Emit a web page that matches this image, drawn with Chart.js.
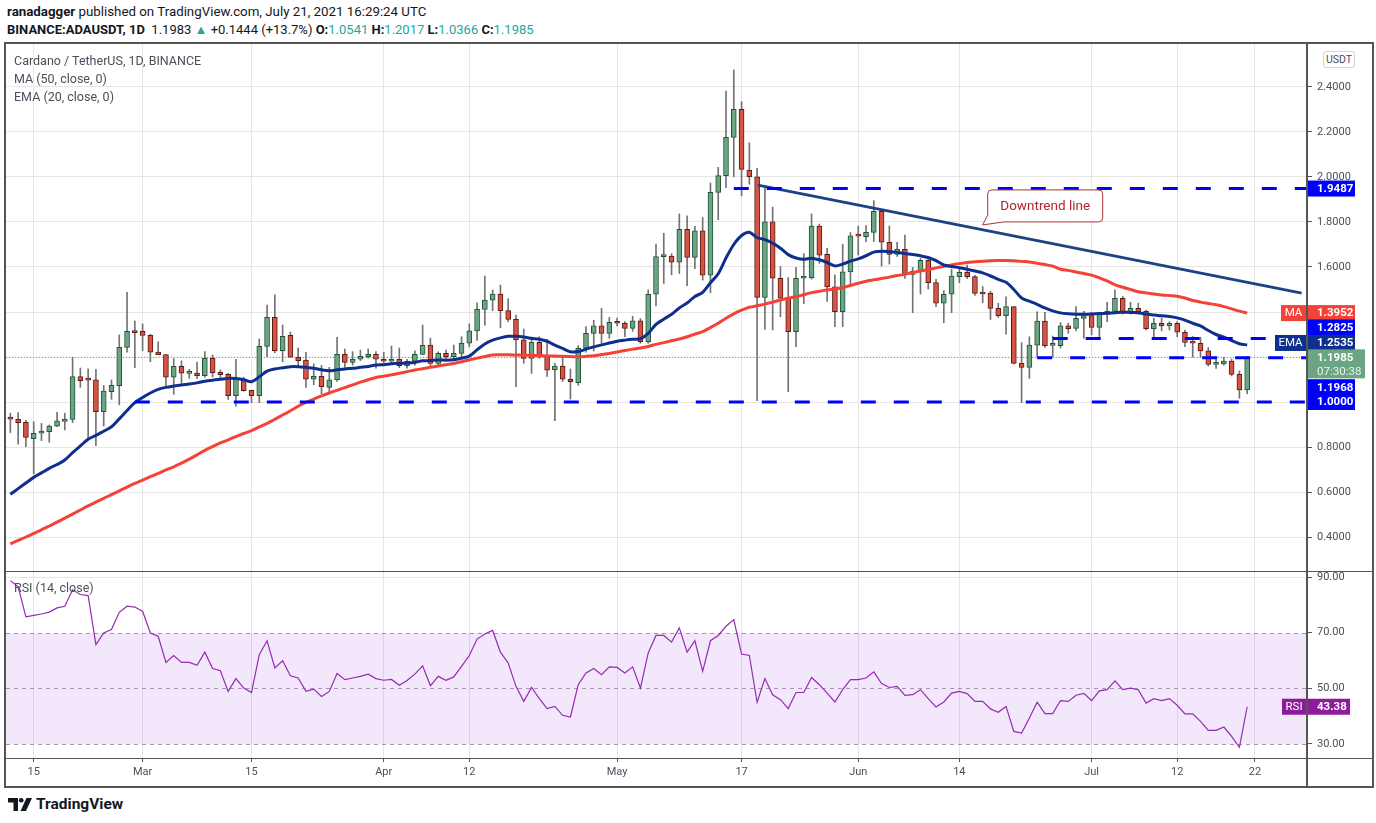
<!DOCTYPE html>
<html>
<head>
<meta charset="utf-8">
<script src="https://cdn.jsdelivr.net/npm/chart.js@4.4.1/dist/chart.umd.min.js"></script>
<style>
  html, body { margin: 0; padding: 0; background: #fff; }
  body { width: 1376px; height: 823px; position: relative; overflow: hidden;
         font-family: Roboto, 'Liberation Sans', sans-serif; color: #131722; }
  .abs { position: absolute; white-space: nowrap; }
  .up { color: #26a69a; }
  .legend { font-size: 12.5px; color: #4a4f5a; left: 14px; z-index: 5; }
  .line { position: absolute; background: #555; z-index: 6; }
</style>
</head>
<body>

<div class="abs" style="left:7px; top:4px; font-size:13.3px;"><b>ranadagger</b> published on TradingView.com, July 21, 2021 16:29:24 UTC</div>
<div class="abs" style="left:7px; top:22px; font-size:13px;"><b>BINANCE:ADAUSDT, 1D</b>&nbsp; 1.1983 <span class="up">&#9650;</span> +0.1444 (+13.7%) <b>O:</b><span class="up">1.0541</span> <b>H:</b><span class="up">1.2017</span> <b>L:</b><span class="up">1.0366</span> <b>C:</b><span class="up">1.1985</span></div>

<canvas id="priceCanvas" class="abs" width="1366" height="527" style="left:6px; top:44px; width:1366px; height:527px;"></canvas>
<canvas id="rsiCanvas" class="abs" width="1366" height="214" style="left:6px; top:572px; width:1366px; height:214px;"></canvas>

<div class="abs legend" style="top:53px;">Cardano / TetherUS, 1D, BINANCE</div>
<div class="abs legend" style="top:71px;">MA (50, close, 0)</div>
<div class="abs legend" style="top:89px;">EMA (20, close, 0)</div>
<div class="abs legend" style="top:580px;">RSI (14, close)</div>

<div class="abs" style="left:1323px; top:51px; width:30px; height:15px; border:1px solid #cfd2d8; border-radius:3px; font-size:10.5px; color:#4a4f5a; text-align:center; line-height:15px; background:#fff; z-index:5;">USDT</div>

<div class="line" style="left:4px; top:42px; width:1370px; height:2px;"></div>
<div class="line" style="left:4px; top:786px; width:1370px; height:2px;"></div>
<div class="line" style="left:4px; top:42px; width:2px; height:746px;"></div>
<div class="line" style="left:1372px; top:42px; width:2px; height:746px;"></div>
<div class="line" style="left:1306px; top:44px; width:2px; height:742px;"></div>
<div class="line" style="left:6px; top:571px; width:1366px; height:1px;"></div>
<div class="line" style="left:6px; top:758px; width:1366px; height:1px;"></div>

<div class="abs" style="left:8px; top:795px; height:18px; display:flex; align-items:center;">
  <svg width="24" height="13" viewBox="0 0 24 13">
    <path d="M0 0 H10 V13 H5.5 V4.5 H0 Z" fill="#131722"/>
    <circle cx="13.2" cy="2.3" r="2.3" fill="#131722"/>
    <path d="M18.5 0 H24 L18 13 H12.5 Z" fill="#131722"/>
  </svg>
  <span style="font-weight:bold; font-size:15.5px; margin-left:4px; color:#131722;">TradingView</span>
</div>

<script>
// ADA/USDT daily candles, Feb 12 .. Jul 21 2021 (x = day of year, Jan 1 = 0)
const firstDay = 42;

const opens = [
  0.928, 0.923, 0.910, 0.837, 0.861, 0.868, 0.893, 0.914, 0.923, 1.113,
  1.099, 1.098, 0.957, 1.046, 1.073, 1.243, 1.314, 1.314, 1.296, 1.222,
  1.211, 1.110, 1.159, 1.127, 1.128, 1.117, 1.194, 1.132, 1.123, 1.028,
  1.101, 1.052, 1.028, 1.247, 1.376, 1.228, 1.296, 1.199, 1.186, 1.101,
  1.114, 1.065, 1.098, 1.212, 1.176, 1.190, 1.202, 1.212, 1.190, 1.181,
  1.190, 1.161, 1.181, 1.212, 1.253, 1.172, 1.216, 1.201, 1.216, 1.261,
  1.316, 1.412, 1.453, 1.480, 1.406, 1.367, 1.276, 1.194, 1.265, 1.203,
  1.144, 1.160, 1.101, 1.086, 1.239, 1.305, 1.338, 1.305, 1.354, 1.350,
  1.327, 1.361, 1.268, 1.479, 1.646, 1.649, 1.621, 1.767, 1.643, 1.761,
  1.564, 1.932, 2.006, 2.176, 2.301, 2.031, 2.001, 1.465, 1.801, 1.550,
  1.465, 1.313, 1.550, 1.553, 1.782, 1.656, 1.512, 1.401, 1.578, 1.740,
  1.735, 1.754, 1.847, 1.710, 1.656, 1.679, 1.567, 1.582, 1.630, 1.531,
  1.439, 1.479, 1.557, 1.576, 1.557, 1.482, 1.483, 1.416, 1.384, 1.424,
  1.172, 1.154, 1.253, 1.360, 1.252, 1.250, 1.338, 1.327, 1.372, 1.384,
  1.332, 1.394, 1.403, 1.461, 1.401, 1.416, 1.403, 1.326, 1.350, 1.338,
  1.350, 1.310, 1.265, 1.261, 1.227, 1.167, 1.169, 1.182, 1.123, 1.0541
];
const highs = [
  0.950, 0.953, 0.919, 0.912, 0.905, 0.898, 0.954, 0.950, 1.199, 1.151,
  1.147, 1.145, 1.074, 1.098, 1.298, 1.487, 1.360, 1.347, 1.301, 1.267,
  1.212, 1.193, 1.183, 1.145, 1.177, 1.224, 1.209, 1.142, 1.127, 1.190,
  1.110, 1.052, 1.280, 1.431, 1.476, 1.342, 1.311, 1.240, 1.221, 1.170,
  1.163, 1.154, 1.287, 1.235, 1.224, 1.231, 1.236, 1.224, 1.221, 1.249,
  1.240, 1.190, 1.227, 1.342, 1.284, 1.223, 1.231, 1.253, 1.290, 1.347,
  1.441, 1.560, 1.498, 1.520, 1.459, 1.386, 1.324, 1.285, 1.290, 1.278,
  1.172, 1.201, 1.147, 1.250, 1.335, 1.363, 1.416, 1.376, 1.373, 1.357,
  1.381, 1.371, 1.498, 1.702, 1.750, 1.659, 1.836, 1.827, 1.781, 1.820,
  1.973, 2.043, 2.382, 2.476, 2.335, 2.152, 2.038, 1.955, 1.866, 1.602,
  1.553, 1.599, 1.659, 1.836, 1.791, 1.683, 1.565, 1.701, 1.753, 1.782,
  1.784, 1.895, 1.856, 1.782, 1.710, 1.742, 1.598, 1.638, 1.645, 1.545,
  1.495, 1.590, 1.598, 1.608, 1.563, 1.513, 1.492, 1.439, 1.467, 1.424,
  1.264, 1.290, 1.401, 1.398, 1.293, 1.353, 1.350, 1.424, 1.403, 1.399,
  1.397, 1.443, 1.498, 1.469, 1.443, 1.439, 1.409, 1.372, 1.372, 1.357,
  1.357, 1.320, 1.291, 1.288, 1.242, 1.194, 1.199, 1.191, 1.138, 1.2017
];
const lows = [
  0.864, 0.813, 0.801, 0.680, 0.828, 0.821, 0.890, 0.876, 0.908, 1.065,
  0.837, 0.806, 0.893, 1.012, 0.987, 1.222, 1.153, 1.228, 1.179, 1.210,
  1.064, 1.034, 1.083, 1.105, 1.104, 1.110, 1.112, 1.105, 1.012, 0.982,
  1.048, 0.997, 0.997, 1.201, 1.219, 1.179, 1.199, 1.157, 1.065, 1.076,
  1.036, 1.039, 1.092, 1.154, 1.164, 1.184, 1.195, 1.150, 1.175, 1.175,
  1.153, 1.150, 1.164, 1.210, 1.158, 1.166, 1.184, 1.190, 1.201, 1.246,
  1.274, 1.342, 1.406, 1.330, 1.357, 1.068, 1.172, 1.127, 1.194, 1.114,
  0.917, 1.091, 1.013, 1.074, 1.221, 1.227, 1.261, 1.283, 1.338, 1.290,
  1.314, 1.261, 1.261, 1.427, 1.527, 1.565, 1.571, 1.517, 1.593, 1.542,
  1.485, 1.810, 1.953, 2.001, 1.916, 1.968, 1.006, 1.323, 1.320, 1.379,
  1.046, 1.246, 1.437, 1.546, 1.616, 1.447, 1.335, 1.335, 1.520, 1.653,
  1.713, 1.713, 1.604, 1.613, 1.647, 1.549, 1.397, 1.480, 1.502, 1.424,
  1.352, 1.397, 1.530, 1.548, 1.474, 1.441, 1.367, 1.376, 1.302, 1.169,
  0.997, 1.105, 1.200, 1.243, 1.200, 1.240, 1.305, 1.316, 1.283, 1.298,
  1.283, 1.357, 1.391, 1.391, 1.391, 1.391, 1.320, 1.283, 1.316, 1.320,
  1.290, 1.246, 1.199, 1.199, 1.160, 1.149, 1.164, 1.116, 1.017, 1.0366
];
const closes = [
  0.924, 0.908, 0.843, 0.861, 0.871, 0.893, 0.916, 0.924, 1.113, 1.095,
  1.097, 0.957, 1.048, 1.074, 1.243, 1.314, 1.308, 1.296, 1.221, 1.210,
  1.110, 1.159, 1.128, 1.130, 1.117, 1.194, 1.130, 1.121, 1.028, 1.101,
  1.050, 1.028, 1.247, 1.376, 1.228, 1.292, 1.199, 1.184, 1.101, 1.114,
  1.068, 1.098, 1.212, 1.176, 1.190, 1.203, 1.212, 1.190, 1.181, 1.190,
  1.161, 1.181, 1.212, 1.252, 1.172, 1.216, 1.201, 1.216, 1.261, 1.316,
  1.412, 1.453, 1.480, 1.406, 1.367, 1.276, 1.194, 1.265, 1.203, 1.141,
  1.160, 1.101, 1.090, 1.239, 1.305, 1.338, 1.305, 1.354, 1.350, 1.327,
  1.361, 1.268, 1.479, 1.646, 1.649, 1.621, 1.767, 1.643, 1.761, 1.564,
  1.932, 2.006, 2.176, 2.301, 2.034, 2.001, 1.465, 1.801, 1.550, 1.461,
  1.313, 1.550, 1.553, 1.782, 1.653, 1.512, 1.401, 1.578, 1.738, 1.737,
  1.754, 1.847, 1.710, 1.656, 1.679, 1.567, 1.582, 1.630, 1.530, 1.439,
  1.479, 1.560, 1.576, 1.557, 1.483, 1.480, 1.416, 1.384, 1.424, 1.172,
  1.154, 1.253, 1.360, 1.250, 1.253, 1.338, 1.326, 1.372, 1.384, 1.332,
  1.394, 1.403, 1.461, 1.401, 1.416, 1.401, 1.326, 1.350, 1.338, 1.350,
  1.310, 1.265, 1.262, 1.227, 1.167, 1.169, 1.182, 1.123, 1.054, 1.1985
];

// EMA (20, close)
const emaValues = [
  0.590, 0.615, 0.640, 0.665, 0.685, 0.705, 0.722, 0.742, 0.775, 0.805,
  0.834, 0.852, 0.870, 0.890, 0.925, 0.962, 0.997, 1.020, 1.040, 1.056,
  1.065, 1.071, 1.076, 1.080, 1.085, 1.092, 1.097, 1.101, 1.105, 1.104,
  1.099, 1.090, 1.112, 1.137, 1.147, 1.152, 1.157, 1.157, 1.154, 1.150,
  1.143, 1.139, 1.143, 1.147, 1.150, 1.154, 1.158, 1.164, 1.166, 1.170,
  1.172, 1.173, 1.176, 1.183, 1.184, 1.187, 1.186, 1.188, 1.195, 1.204,
  1.232, 1.258, 1.275, 1.285, 1.292, 1.292, 1.289, 1.283, 1.279, 1.270,
  1.253, 1.238, 1.223, 1.224, 1.235, 1.245, 1.254, 1.262, 1.270, 1.275,
  1.279, 1.281, 1.305, 1.345, 1.368, 1.390, 1.418, 1.440, 1.469, 1.487,
  1.530, 1.570, 1.640, 1.700, 1.740, 1.754, 1.730, 1.722, 1.706, 1.683,
  1.655, 1.640, 1.634, 1.639, 1.632, 1.620, 1.605, 1.613, 1.626, 1.636,
  1.650, 1.666, 1.670, 1.668, 1.665, 1.660, 1.656, 1.650, 1.642, 1.628,
  1.609, 1.602, 1.597, 1.590, 1.582, 1.574, 1.560, 1.545, 1.532, 1.500,
  1.462, 1.448, 1.434, 1.418, 1.405, 1.396, 1.392, 1.390, 1.390, 1.391,
  1.393, 1.394, 1.397, 1.399, 1.398, 1.397, 1.391, 1.387, 1.383, 1.380,
  1.374, 1.364, 1.350, 1.338, 1.318, 1.300, 1.288, 1.273, 1.259, 1.2535
];

// MA (50, close)
const maValues = [
  0.370, 0.385, 0.400, 0.416, 0.432, 0.449, 0.466, 0.484, 0.502, 0.520,
  0.538, 0.555, 0.572, 0.588, 0.605, 0.622, 0.638, 0.653, 0.668, 0.683,
  0.698, 0.712, 0.728, 0.746, 0.765, 0.785, 0.802, 0.818, 0.832, 0.846,
  0.860, 0.873, 0.889, 0.905, 0.923, 0.942, 0.961, 0.981, 0.998, 1.013,
  1.027, 1.040, 1.052, 1.064, 1.076, 1.088, 1.099, 1.109, 1.115, 1.121,
  1.128, 1.135, 1.142, 1.148, 1.154, 1.160, 1.166, 1.171, 1.179, 1.187,
  1.195, 1.202, 1.209, 1.210, 1.210, 1.209, 1.208, 1.207, 1.206, 1.205,
  1.204, 1.203, 1.202, 1.201, 1.203, 1.206, 1.211, 1.216, 1.222, 1.229,
  1.235, 1.240, 1.247, 1.256, 1.264, 1.272, 1.280, 1.290, 1.302, 1.313,
  1.331, 1.350, 1.372, 1.392, 1.408, 1.421, 1.428, 1.435, 1.444, 1.453,
  1.461, 1.468, 1.477, 1.486, 1.492, 1.498, 1.503, 1.508, 1.518, 1.528,
  1.537, 1.543, 1.549, 1.555, 1.562, 1.568, 1.575, 1.582, 1.589, 1.596,
  1.603, 1.609, 1.615, 1.620, 1.623, 1.626, 1.628, 1.629, 1.629, 1.628,
  1.625, 1.622, 1.617, 1.611, 1.604, 1.590, 1.585, 1.578, 1.571, 1.564,
  1.552, 1.538, 1.521, 1.510, 1.500, 1.490, 1.485, 1.480, 1.476, 1.473,
  1.470, 1.462, 1.451, 1.444, 1.438, 1.432, 1.424, 1.414, 1.404, 1.3952
];

// RSI (14, close)
const rsiValues = [
  88.7, 86.5, 75.7, 76.2, 76.7, 77.4, 78.9, 79.5, 85.4, 83.7,
  83.3, 65.7, 69.9, 71.1, 77.3, 79.5, 79.2, 77.7, 69.9, 68.7,
  59.3, 61.8, 59.3, 59.3, 58.3, 63.0, 57.1, 56.3, 48.9, 53.5,
  50.1, 48.5, 62.1, 67.1, 57.3, 59.9, 54.5, 53.7, 48.9, 49.7,
  47.1, 48.9, 55.3, 53.1, 53.7, 54.3, 55.1, 53.5, 52.9, 53.2,
  51.1, 52.8, 55.1, 58.1, 50.9, 54.3, 52.9, 54.1, 57.9, 61.8,
  67.7, 69.5, 70.8, 63.0, 59.1, 50.7, 45.3, 50.3, 46.3, 42.7,
  43.5, 40.3, 39.7, 51.3, 55.5, 57.1, 54.9, 57.7, 57.5, 55.5,
  57.7, 50.1, 62.7, 69.0, 69.0, 66.6, 71.7, 63.0, 67.1, 56.1,
  67.1, 69.0, 72.3, 74.7, 62.3, 61.8, 45.0, 53.5, 47.7, 45.9,
  42.7, 48.5, 48.5, 53.9, 51.3, 48.3, 45.1, 49.5, 53.1, 53.1,
  53.7, 55.9, 51.7, 50.3, 50.7, 47.5, 47.7, 49.5, 46.3, 43.3,
  45.1, 48.3, 48.9, 48.1, 45.3, 45.3, 42.6, 41.4, 43.5, 34.5,
  33.9, 39.3, 45.0, 40.9, 40.9, 45.6, 45.3, 47.5, 48.2, 45.6,
  49.1, 49.5, 52.7, 49.5, 50.1, 49.5, 44.7, 46.3, 45.6, 46.3,
  43.9, 40.8, 40.8, 38.1, 34.9, 34.9, 36.1, 32.7, 28.8, 43.38
];

// drawn horizontal levels and trend line
const levelValues = [1.9487, 1.2825, 1.1968, 1.0];
const levelFromDay = [135, 176, 174, 58];
const trendDays = [138.1, 208.0];
const trendPrices = [1.964, 1.484];
const calloutText = 'Downtrend line';
const calloutTip = { x: 167.0, y: 1.787 };

// axes
const priceTicks = [0.4, 0.6, 0.8, 1.0, 1.2, 1.4, 1.6, 1.8, 2.0, 2.2, 2.4];
const rsiTicks = [30, 50, 70, 90];
const tickDays = [45, 59, 73, 90, 101, 120, 136, 151, 164, 181, 192, 202];
const tickLabels = ['15', 'Mar', '15', 'Apr', '12', 'May', '17', 'Jun', '14', 'Jul', '12', '22'];
const countdown = '07:30:38';

const xMin = 41.44, xMax = 208.69;
const priceMin = 0.2489, priceMax = 2.5911;
const rsiMin = 24.96, rsiMax = 91.8;

const gridColor = '#e6e6e6';
const axisText = '#4a4f5a';
const upFill = '#6ba583', upLine = '#225437';
const downFill = '#d75442', downLine = '#5b1a13';
const lineBlue = '#0000ff';
const emaColor = '#0e2f8e';
const maColor = '#f44336';
const rsiColor = '#952bb0';
const fontFamily = "Roboto, 'Liberation Sans', sans-serif";

const days = closes.map((c, i) => firstDay + i);
const last = closes.length - 1;

function badge(ctx, x, yc, w, h, bg, text, sub) {
  ctx.fillStyle = bg;
  ctx.fillRect(x, yc - 8, w, h);
  ctx.fillStyle = '#fff';
  ctx.font = 'bold 11.5px ' + fontFamily;
  ctx.textBaseline = 'middle';
  ctx.textAlign = 'left';
  ctx.fillText(text, x + 10, yc + 0.5);
  if (sub) {
    ctx.font = '11.5px ' + fontFamily;
    ctx.fillStyle = 'rgba(255,255,255,0.85)';
    ctx.fillText(sub, x + 10, yc + 14.5);
  }
}
function tag(ctx, right, yc, w, bg, text) {
  ctx.fillStyle = bg;
  ctx.fillRect(right - w - 1, yc - 8, w, 16);
  ctx.fillStyle = '#fff';
  ctx.font = '11.5px ' + fontFamily;
  ctx.textBaseline = 'middle';
  ctx.textAlign = 'center';
  ctx.fillText(text, right - 1 - w / 2, yc + 0.5);
}

const priceExtras = {
  id: 'priceExtras',
  beforeDatasetsDraw(chart) {
    const { ctx, chartArea: a, scales: { y } } = chart;
    const py = y.getPixelForValue(closes[last]);
    ctx.save();
    ctx.strokeStyle = '#6f9a80';
    ctx.lineWidth = 1;
    ctx.setLineDash([1, 2]);
    ctx.beginPath();
    ctx.moveTo(a.left, py);
    ctx.lineTo(a.right, py);
    ctx.stroke();
    ctx.restore();
  },
  afterDatasetsDraw(chart) {
    const { ctx, scales: { x, y } } = chart;
    const tx = x.getPixelForValue(calloutTip.x), ty = y.getPixelForValue(calloutTip.y);
    const x0 = tx + 5, x1 = x0 + 115, y1 = ty - 3, y0 = y1 - 32, r = 4;
    ctx.save();
    ctx.beginPath();
    ctx.moveTo(x0 + r, y0);
    ctx.lineTo(x1 - r, y0);
    ctx.arcTo(x1, y0, x1, y0 + r, r);
    ctx.lineTo(x1, y1 - r);
    ctx.arcTo(x1, y1, x1 - r, y1, r);
    ctx.lineTo(x0 + 16, y1);
    ctx.lineTo(tx, ty);
    ctx.lineTo(x0, y1 - 7);
    ctx.lineTo(x0, y0 + r);
    ctx.arcTo(x0, y0, x0 + r, y0, r);
    ctx.closePath();
    ctx.fillStyle = '#fff';
    ctx.fill();
    ctx.strokeStyle = '#a8323a';
    ctx.lineWidth = 1;
    ctx.stroke();
    ctx.fillStyle = '#b2262b';
    ctx.font = '13.5px ' + fontFamily;
    ctx.textAlign = 'center';
    ctx.textBaseline = 'middle';
    ctx.fillText(calloutText, (x0 + x1) / 2, (y0 + y1) / 2 + 0.5);
    ctx.restore();
  },
  afterDraw(chart) {
    const { ctx, chartArea: a, scales: { y } } = chart;
    const px = v => y.getPixelForValue(v);
    const X = a.right;
    ctx.save();
    badge(ctx, X, px(levelValues[0]), 48, 16, lineBlue, levelValues[0].toFixed(4));
    tag(ctx, X, px(maValues[last]), 25, maColor, 'MA');
    badge(ctx, X, px(maValues[last]), 48, 16, maColor, maValues[last].toFixed(4));
    badge(ctx, X, px(levelValues[1]) - 11, 48, 16, lineBlue, levelValues[1].toFixed(4));
    tag(ctx, X, px(emaValues[last]) - 2, 31, emaColor, 'EMA');
    badge(ctx, X, px(emaValues[last]) - 2, 48, 16, emaColor, emaValues[last].toFixed(4));
    badge(ctx, X, px(levelValues[2]) + 29.5, 48, 16, lineBlue, levelValues[2].toFixed(4));
    badge(ctx, X, px(levelValues[3]), 48, 16, lineBlue, levelValues[3].toFixed(4));
    badge(ctx, X, px(closes[last]), 58, 29, upFill, closes[last].toFixed(4), countdown);
    ctx.restore();
  }
};

const levelSets = levelValues.map((v, i) => ({
  type: 'line',
  data: [{ x: levelFromDay[i], y: v }, { x: xMax, y: v }],
  borderColor: lineBlue, borderWidth: 3, borderDash: [15, 18],
  pointRadius: 0, order: 0
}));

new Chart(document.getElementById('priceCanvas'), {
  type: 'bar',
  data: {
    datasets: [
      ...levelSets,
      {
        type: 'line',
        data: trendDays.map((d, i) => ({ x: d, y: trendPrices[i] })),
        borderColor: '#1d4385', borderWidth: 3, pointRadius: 0, order: 0
      },
      {
        type: 'line',
        data: days.map((d, i) => ({ x: d, y: emaValues[i] })),
        borderColor: emaColor, borderWidth: 3, pointRadius: 0, tension: 0.3, order: 1
      },
      {
        type: 'line',
        data: days.map((d, i) => ({ x: d, y: maValues[i] })),
        borderColor: maColor, borderWidth: 3, pointRadius: 0, tension: 0.3, order: 1
      },
      {
        data: days.map((d, i) => ({ x: d, y: [opens[i], closes[i]] })),
        backgroundColor: ctx => closes[ctx.dataIndex] >= opens[ctx.dataIndex] ? upFill : downFill,
        borderColor: ctx => closes[ctx.dataIndex] >= opens[ctx.dataIndex] ? upLine : downLine,
        borderWidth: 1, borderSkipped: false, barThickness: 5, minBarLength: 2,
        grouped: false, order: 2
      },
      {
        data: days.map((d, i) => ({ x: d, y: [lows[i], highs[i]] })),
        backgroundColor: '#737375', barThickness: 1, grouped: false, order: 3
      }
    ]
  },
  options: {
    responsive: false,
    animation: false,
    layout: { padding: 0 },
    plugins: { legend: { display: false }, tooltip: { enabled: false } },
    scales: {
      x: {
        type: 'linear', min: xMin, max: xMax, offset: false,
        grid: { color: gridColor, drawTicks: false, offset: false },
        border: { display: false },
        ticks: { display: false },
        afterBuildTicks: s => { s.ticks = tickDays.map(v => ({ value: v })); },
        afterFit: s => { s.height = 0; s.paddingLeft = 0; s.paddingRight = 0; }
      },
      y: {
        position: 'right', min: priceMin, max: priceMax,
        grid: { color: gridColor, tickLength: 5, tickColor: '#555' },
        border: { display: false },
        ticks: { padding: 5, color: axisText, font: { size: 11, family: fontFamily },
                 callback: v => Number(v).toFixed(4) },
        afterBuildTicks: s => { s.ticks = priceTicks.map(v => ({ value: v })); },
        afterFit: s => { s.width = 65; s.paddingTop = 0; s.paddingBottom = 0; }
      }
    }
  },
  plugins: [priceExtras]
});

const rsiExtras = {
  id: 'rsiExtras',
  beforeDatasetsDraw(chart) {
    const { ctx, chartArea: a, scales: { y } } = chart;
    const y70 = y.getPixelForValue(70), y30 = y.getPixelForValue(30);
    ctx.save();
    ctx.fillStyle = 'rgba(140, 20, 230, 0.1)';
    ctx.fillRect(a.left, y70, a.right - a.left, y30 - y70);
    ctx.strokeStyle = '#a795b1';
    ctx.lineWidth = 1;
    ctx.setLineDash([4, 4]);
    [70, 50, 30].forEach(v => {
      const py = Math.round(y.getPixelForValue(v)) + 0.5;
      ctx.beginPath();
      ctx.moveTo(a.left, py);
      ctx.lineTo(a.right, py);
      ctx.stroke();
    });
    ctx.restore();
  },
  afterDraw(chart) {
    const { ctx, chartArea: a, scales: { y } } = chart;
    const v = rsiValues[last];
    const py = y.getPixelForValue(v);
    ctx.save();
    tag(ctx, a.right, py, 24, '#8d1b9c', 'RSI');
    badge(ctx, a.right, py, 43, 16, '#8d1b9c', v.toFixed(2));
    ctx.restore();
  }
};

new Chart(document.getElementById('rsiCanvas'), {
  type: 'line',
  data: {
    datasets: [{
      data: days.map((d, i) => ({ x: d, y: rsiValues[i] })),
      borderColor: rsiColor, borderWidth: 1.2, pointRadius: 0, tension: 0
    }]
  },
  options: {
    responsive: false,
    animation: false,
    layout: { padding: 0 },
    plugins: { legend: { display: false }, tooltip: { enabled: false } },
    scales: {
      x: {
        type: 'linear', min: xMin, max: xMax, offset: false,
        grid: { color: gridColor, tickLength: 4, tickColor: '#555', offset: false },
        border: { display: false },
        ticks: { padding: 4, maxRotation: 0, autoSkip: false, color: axisText,
                 font: { size: 11, family: fontFamily },
                 callback: (v, i) => tickLabels[i] },
        afterBuildTicks: s => { s.ticks = tickDays.map(v => ({ value: v })); },
        afterFit: s => { s.height = 28; s.paddingLeft = 0; s.paddingRight = 0; }
      },
      y: {
        position: 'right', min: rsiMin, max: rsiMax,
        grid: { color: c => (c.tick && c.tick.value === 90) ? gridColor : 'rgba(0,0,0,0)',
                tickLength: 5, tickColor: '#555' },
        border: { display: false },
        ticks: { padding: 5, color: axisText, font: { size: 11, family: fontFamily },
                 callback: v => Number(v).toFixed(2) },
        afterBuildTicks: s => { s.ticks = rsiTicks.map(v => ({ value: v })); },
        afterFit: s => { s.width = 65; s.paddingTop = 0; s.paddingBottom = 0; }
      }
    }
  },
  plugins: [rsiExtras]
});
</script>
</body>
</html>
